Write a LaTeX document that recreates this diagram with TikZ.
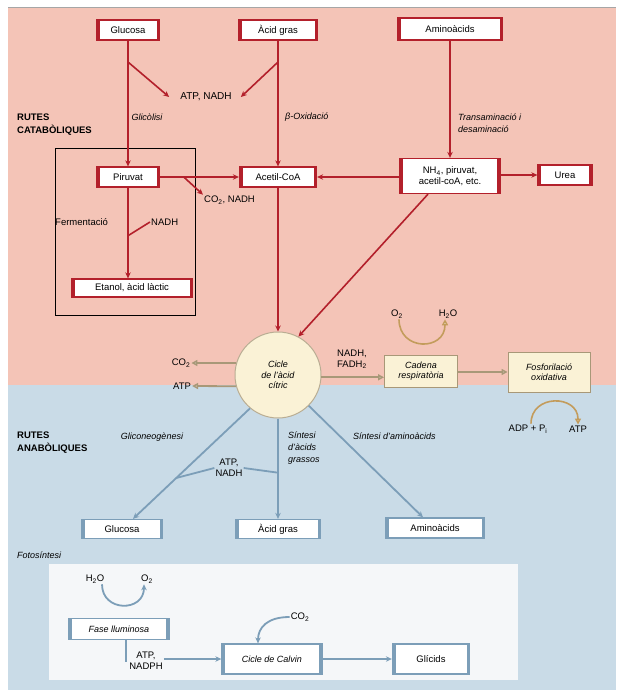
\documentclass[tikz,border=0pt]{standalone}
\usepackage{fontspec}
\setmainfont{Liberation Sans}
\usetikzlibrary{arrows.meta}

\definecolor{catbg}{HTML}{F4C4B7}
\definecolor{anabg}{HTML}{C9DBE7}
\definecolor{catred}{HTML}{B3202B}
\definecolor{anablue}{HTML}{7C9EB8}
\definecolor{cream}{HTML}{FAF2D6}
\definecolor{enbrown}{HTML}{A89878}
\definecolor{arcgold}{HTML}{C39C5C}

\begin{document}
\begin{tikzpicture}[x=1pt,y=-1pt,>=Stealth,
  every node/.style={font=\fontsize{9.5}{11}\selectfont},
  thicksides/.style={path picture={
    \fill[#1] (path picture bounding box.south west) rectangle ([xshift=3pt]path picture bounding box.north west);
    \fill[#1] (path picture bounding box.south east) rectangle ([xshift=-3pt]path picture bounding box.north east);}},
  redbox/.style={draw=catred,line width=1.3pt,fill=white,minimum height=20,inner sep=2pt,thicksides=catred},
  bluebox/.style={draw=anablue,line width=1.3pt,fill=white,minimum height=19,inner sep=2pt,thicksides=anablue},
  enbox/.style={draw=enbrown,line width=0.9pt,fill=cream,align=center,font=\fontsize{9}{10.5}\selectfont\itshape},
  catarrow/.style={catred,line width=1.6pt,-{Stealth[length=6pt,width=5.5pt]}},
  catline/.style={catred,line width=1.6pt},
  anaarrow/.style={anablue,line width=1.8pt,-{Stealth[length=6pt,width=5.5pt]}},
  analine/.style={anablue,line width=1.8pt},
  enarrow/.style={enbrown,line width=1.8pt,-{Triangle[fill=white,length=6pt,width=6pt]}},
  arcarrow/.style={arcgold,line width=1.6pt,-{Triangle[fill=white,length=6pt,width=6pt]}},
  lbl/.style={inner sep=1pt,align=center},
  ital/.style={inner sep=1pt,align=left,font=\fontsize{9}{12}\selectfont\itshape},
  heading/.style={inner sep=0pt,align=left,font=\fontsize{9.5}{13}\selectfont\bfseries}]
  \useasboundingbox (0,0) rectangle (616,690);
  % background: catabolic (pink) over anabolic (blue)
  \fill[catbg] (8,8) rectangle (616,385);
  \fill[anabg] (8,385) rectangle (616,690);
  \draw[gray!70,line width=1pt] (8,8) -- (616,8);
  \fill[white!92!anablue] (49,564) rectangle (518,680);
  \draw[black,line width=0.9pt] (55,148) rectangle (195,315);

  % catabolic nodes
  \node[redbox,minimum width=63] (glucosa) at (128,30) {Glucosa};
  \node[redbox,minimum width=79] (acidgras) at (278,30) {Àcid gras};
  \node[redbox,minimum width=105,minimum height=22] (aminoacids) at (450,29) {Aminoàcids};
  \node[redbox,minimum width=63] (piruvat) at (128,177) {Piruvat};
  \node[redbox,minimum width=77] (acetil) at (278,177) {Acetil-CoA};
  \node[redbox,minimum width=100,minimum height=35,align=center,
    font=\fontsize{9.5}{10.5}\selectfont] (nh4) at (450,176)
    {NH\textsubscript{4}, piruvat,\\acetil-coA, etc.};
  \node[redbox,minimum width=54] (urea) at (565,175) {Urea};
  \node[redbox,minimum width=121,minimum height=18] (etanol) at (132,288) {Etanol, àcid làctic};

  \node[heading,anchor=west] (rutescat) at (17,125) {RUTES\\CATABÒLIQUES};
  \node[lbl,font=\fontsize{10}{11}\selectfont] (atpnadh) at (206,97) {ATP, NADH};
  \node[ital] (glicolisi) at (147,117) {Glicòlisi};
  \node[ital,anchor=west] (boxidacio) at (284,117) {β-Oxidació};
  \node[ital,anchor=west] (transam) at (457,123) {Transaminació i\\desaminació};
  \node[lbl,anchor=west] (co2nadh) at (203,200) {CO\textsubscript{2}, NADH};
  \node[lbl,anchor=west] (ferment) at (54,222) {Fermentació};
  \node[lbl,anchor=west] (nadh) at (150,222) {NADH};

  % catabolic connectors
  \draw[catarrow] (glucosa) -- coordinate[pos=0.17] (gbranch) (piruvat);
  \draw[catarrow] (gbranch) -- ([xshift=-10pt]atpnadh.west);
  \draw[catarrow] (acidgras) -- coordinate[pos=0.17] (abranch) (acetil);
  \draw[catarrow] (abranch) -- ([xshift=8pt]atpnadh.east);
  \draw[catarrow] (aminoacids) -- (nh4);
  \draw[catarrow] (piruvat) -- coordinate[pos=0.3] (pbranch) (acetil);
  \draw[catarrow] (pbranch) -- (co2nadh.north west);
  \draw[catarrow] (nh4.west |- acetil) -- (acetil);
  \draw[catarrow] (nh4.east |- urea) -- (urea);
  \draw[catarrow] (piruvat.south) -- coordinate[pos=0.53] (fbranch) (piruvat.south |- etanol.north);
  \draw[catline] (fbranch) -- (nadh.west);

  % citric acid cycle and energy
  \node[circle,draw=enbrown!80,line width=1pt,fill=cream,minimum size=86,align=center,
    font=\fontsize{9}{10.5}\selectfont\itshape] (cycle) at (278,375) {Cicle\\de l'àcid\\cítric};
  \draw[catarrow] (acetil) -- (cycle);
  \draw[catarrow] ([xshift=-22pt]nh4.south) -- (cycle.62);
  \node[enbox,minimum width=73,minimum height=32] (cadena) at (421,371) {Cadena\\respiratòria};
  \node[enbox,minimum width=82,minimum height=40] (fosfor) at (549,372) {Fosforilació\\oxidativa};
  \node[lbl] (co2c) at (181,363) {CO\textsubscript{2}};
  \node[lbl] (atpc) at (182,386) {ATP};
  \node[lbl,anchor=west,align=left] (nadhfadh) at (336,359) {NADH,\\FADH\textsubscript{2}};
  \node[lbl] (o2) at (397,314) {O\textsubscript{2}};
  \node[lbl] (h2o) at (448,314) {H\textsubscript{2}O};
  \node[lbl] (adppi) at (528,429) {ADP + P\textsubscript{i}};
  \node[lbl] (atpf) at (578,429) {ATP};
  \draw[enarrow] (cycle.164) -- (co2c.east);
  \draw[enarrow] (cycle.195) -- (atpc.east);
  \draw[enarrow] (cycle.-3) -- (cycle.-3 -| cadena.west);
  \draw[enarrow] (cadena.east |- fosfor) -- (fosfor);
  \draw[arcarrow] ([xshift=2pt]o2.south) .. controls +(0,32) and +(0,32) .. ([xshift=-3pt]h2o.south);
  \draw[arcarrow] ([xshift=3pt]adppi.north) .. controls +(0,-30) and +(0,-30) .. (atpf.north);

  % anabolic nodes
  \node[heading,anchor=west] (rutesana) at (17,443) {RUTES\\ANABÒLIQUES};
  \node[ital] (glico) at (152,437) {Gliconeogènesi};
  \node[ital,anchor=west] (sintac) at (287,448) {Síntesi\\d'àcids\\grassos};
  \node[ital,anchor=west] (sintam) at (352,436) {Síntesi d'aminoàcids};
  \node[lbl] (atpnadh2) at (229,468) {ATP,\\NADH};
  \node[bluebox,minimum width=81] (glucosa2) at (122,529) {Glucosa};
  \node[bluebox,minimum width=85] (acidgras2) at (278,529) {Àcid gras};
  \node[bluebox,minimum width=99,minimum height=20] (amino2) at (435,528) {Aminoàcids};
  \draw[anaarrow] (cycle.230) -- coordinate[pos=0.63] (gjoin) ([xshift=11pt]glucosa2.north);
  \draw[anaarrow] (cycle) -- coordinate[pos=0.54] (ajoin) (acidgras2);
  \draw[anaarrow] (cycle.-45) -- ([xshift=-12pt]amino2.north);
  \draw[analine] (atpnadh2.west) -- (gjoin);
  \draw[analine] (atpnadh2.east) -- (ajoin);

  % photosynthesis
  \node[ital,anchor=west] (fotosint) at (16,555) {Fotosíntesi};
  \node[lbl] (h2o2) at (95,579) {H\textsubscript{2}O};
  \node[lbl] (o2b) at (147,579) {O\textsubscript{2}};
  \node[bluebox,minimum width=100,minimum height=21,font=\fontsize{9}{10.5}\selectfont\itshape] (fase) at (119,629) {Fase lluminosa};
  \node[lbl] (atpnadph) at (146,661) {ATP,\\NADPH};
  \node[bluebox,minimum width=100,minimum height=30,font=\fontsize{9}{10.5}\selectfont\itshape] (calvin) at (272,659) {Cicle de Calvin};
  \node[bluebox,minimum width=77,minimum height=30] (glicids) at (431,659) {Glícids};
  \node[lbl] (co2b) at (300,617) {CO\textsubscript{2}};
  \draw[anaarrow] ([xshift=7pt]h2o2.south) .. controls +(0,28) and +(0,28) .. ([xshift=-3pt]o2b.south);
  \draw[analine] ([xshift=7pt]fase.south) |- ([xshift=-3pt]atpnadph.west);
  \draw[anaarrow] (atpnadph.east |- calvin) -- (calvin);
  \draw[anaarrow] (co2b.west) .. controls +(-22,0) and +(0,-16) .. ([xshift=-14pt]calvin.north);
  \draw[anaarrow] (calvin) -- (glicids);
\end{tikzpicture}
\end{document}
